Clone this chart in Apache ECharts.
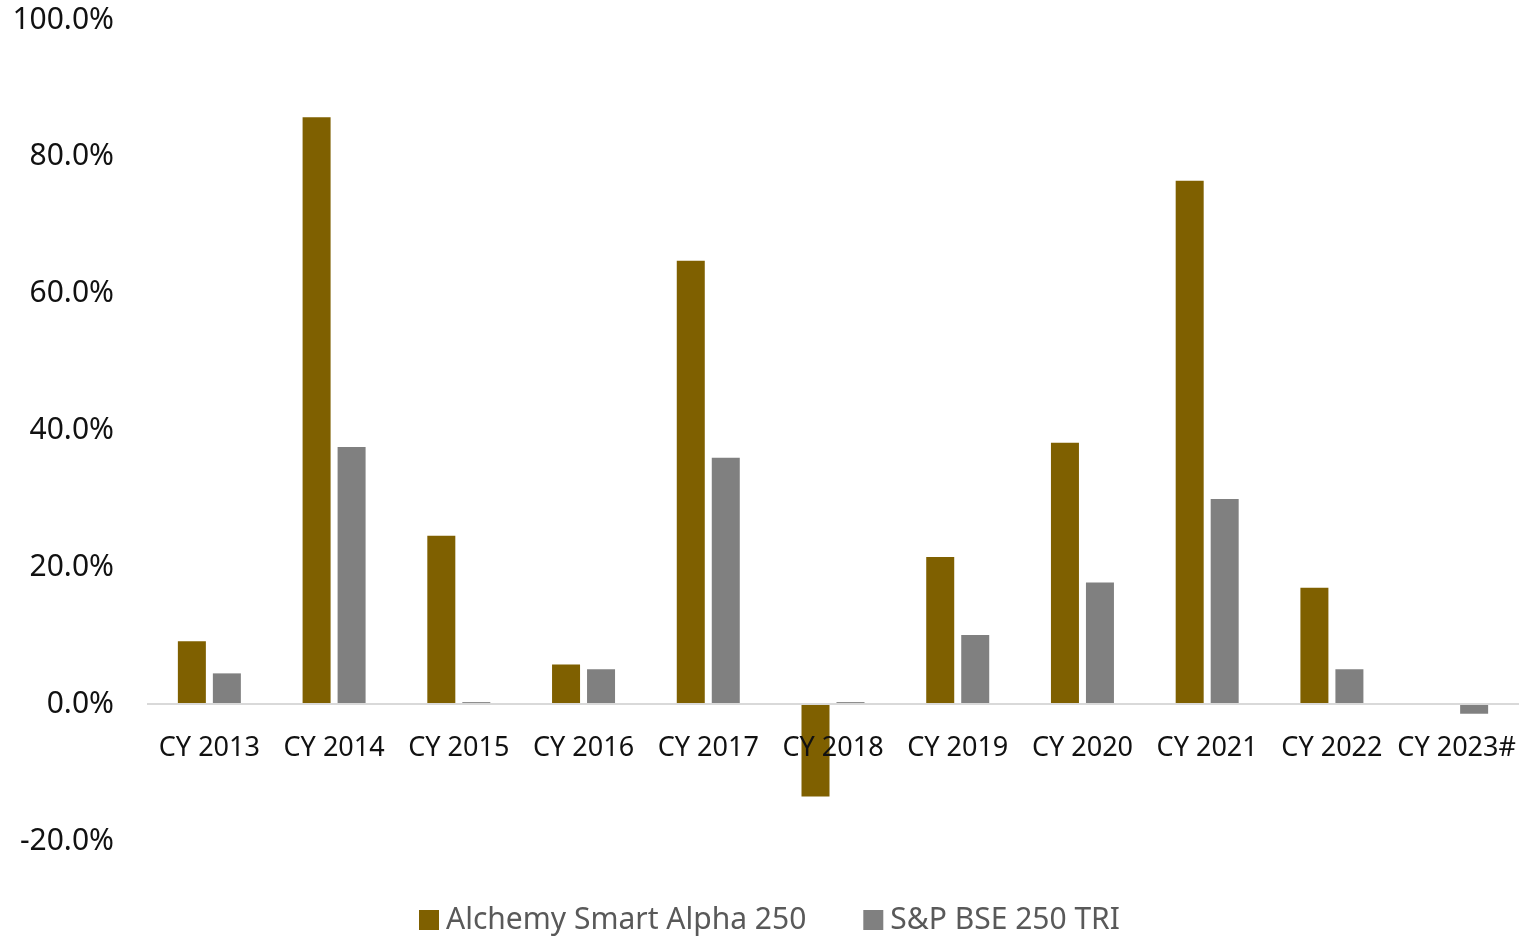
<!DOCTYPE html>
<html><head><meta charset="utf-8">
<script src="https://cdn.jsdelivr.net/npm/echarts@6/dist/echarts.min.js"></script>
<style>html,body{margin:0;padding:0;background:#fff}#c{width:1519px;height:937px}</style>
</head><body><div id="c"></div>
<script>
const categories = ['CY 2013','CY 2014','CY 2015','CY 2016','CY 2017','CY 2018','CY 2019','CY 2020','CY 2021','CY 2022','CY 2023#'];
const alchemy = [9.2, 85.8, 24.6, 5.8, 64.8, -13.5, 21.5, 38.2, 76.5, 17.0, null];
const bse = [4.5, 37.6, 0.3, 5.1, 36.0, 0.3, 10.1, 17.8, 30.0, 5.1, -1.4];
const seriesNames = ['Alchemy Smart Alpha 250', 'S&P BSE 250 TRI'];
const font = 'Noto Sans';
const chart = echarts.init(document.getElementById('c'));
chart.setOption({
  animation: false,
  grid: {left: 147, right: 0, top: 20, bottom: 96, containLabel: false},
  legend: {
    bottom: -3, left: 414, itemWidth: 20, itemHeight: 20, itemGap: 57,
    icon: 'rect',
    textStyle: {fontFamily: font, fontSize: 30, color: '#595959', padding: [0, 0, 0, 2]},
    data: seriesNames
  },
  xAxis: {
    type: 'category', data: categories, z: 5,
    axisLine: {show: false, onZero: true},
    axisTick: {show: false},
    axisLabel: {fontFamily: font, fontSize: 27, color: '#111', margin: -106, interval: 0}
  },
  yAxis: {
    type: 'value', min: -20, max: 100, interval: 20,
    splitLine: {show: false},
    axisLine: {show: false}, axisTick: {show: false},
    axisLabel: {fontFamily: font, fontSize: 30, color: '#111', margin: 33,
      formatter: v => v.toFixed(1) + '%'}
  },
  series: [
    {name: 'zero', type: 'line', data: [], z: 1, silent: true,
     markLine: {silent: true, symbol: 'none', label: {show: false},
       lineStyle: {color: '#d9d9d9', width: 2, type: 'solid'},
       data: [{yAxis: 0}]}},
    {name: seriesNames[0], type: 'bar', data: alchemy, barWidth: 28, barGap: '25%', z: 2,
     itemStyle: {color: '#7f6000'}},
    {name: seriesNames[1], type: 'bar', data: bse, barWidth: 28, z: 2,
     itemStyle: {color: '#808080'}}
  ]
});
</script></body></html>
